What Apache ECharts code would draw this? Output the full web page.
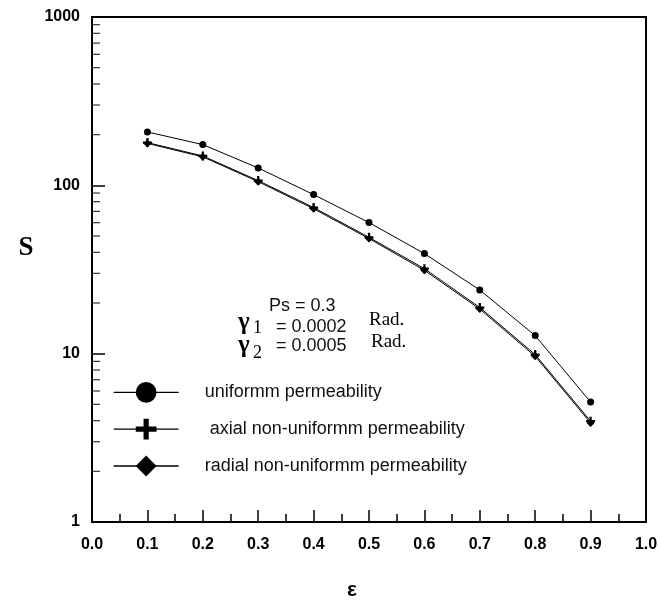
<!DOCTYPE html>
<html>
<head>
<meta charset="utf-8">
<script src="https://cdn.jsdelivr.net/npm/echarts@6/dist/echarts.min.js"></script>
<style>
html,body{margin:0;padding:0;background:#fff;}
#chart{width:658px;height:603px;}
</style>
</head>
<body>
<div id="chart"></div>
<script>
// ---- data ----
const epsilon = [0.1, 0.2, 0.3, 0.4, 0.5, 0.6, 0.7, 0.8, 0.9];
const uniformS = [207.5, 174.6, 126.8, 88.1, 60.1, 39.3, 23.9, 12.8, 5.16];
const axialS = [179.5, 149.4, 106.7, 73.8, 49.1, 32.0, 18.8, 9.87, 3.97];
const radialS = [177.5, 147.6, 105.2, 72.6, 48.3, 31.3, 18.4, 9.65, 3.88];
const seriesNames = ['uniformm permeability', ' axial non-uniformm permeability', 'radial non-uniformm permeability'];
const yMinorTicks = [2, 3, 4, 5, 6, 7, 8, 9, 20, 30, 40, 50, 60, 70, 80, 90, 200, 300, 400, 500, 600, 700, 800, 900];
const xTickLabels = ['0.0', '0.1', '0.2', '0.3', '0.4', '0.5', '0.6', '0.7', '0.8', '0.9', '1.0'];
const yTickLabels = { 1: '1', 10: '10', 100: '100', 1000: '1000' };

const SANS = 'Liberation Sans, Arial, sans-serif';
const SERIF = 'Liberation Serif, Times New Roman, serif';
const PLUS = 'path://M3,0 H5 V3 H8 V5 H5 V8 H3 V5 H0 V3 H3 Z';

const toPairs = (ys) => epsilon.map((x, i) => [x, ys[i]]);

const chart = echarts.init(document.getElementById('chart'), null, { renderer: 'canvas' });

const lineSeries = (name, ys, symbol, size) => ({
  name: name,
  type: 'line',
  data: toPairs(ys),
  symbol: symbol,
  symbolSize: size,
  showSymbol: true,
  clip: false,
  lineStyle: { color: '#000', width: 1 },
  itemStyle: { color: '#000' },
  emphasis: { disabled: true },
  animation: false,
  z: 3
});

const option = {
  animation: false,
  backgroundColor: '#fff',
  grid: {
    left: 92, right: 12, top: 17, bottom: 81,
    show: true, borderColor: '#000', borderWidth: 2,
    containLabel: false, outerBoundsMode: 'none'
  },
  legend: {
    orient: 'vertical',
    left: 113, top: 382, padding: 0,
    itemWidth: 65, itemHeight: 26, itemGap: 16,
    data: seriesNames,
    selectedMode: false,
    lineStyle: { width: 1.3 },
    textStyle: { fontFamily: SANS, fontSize: 18, color: '#111', padding: [0, 0, 0, 21] }
  },
  xAxis: {
    type: 'value', min: 0, max: 1, interval: 0.1,
    axisLine: { show: true, onZero: false, lineStyle: { color: '#000', width: 2 } },
    axisTick: { show: true, inside: true, length: 12, lineStyle: { color: '#000', width: 1.5 } },
    minorTick: { show: true, splitNumber: 2, length: 8, lineStyle: { color: '#000', width: 1.5 } },
    splitLine: { show: false },
    axisLabel: {
      margin: 15, color: '#000', fontFamily: SANS, fontWeight: 'bold', fontSize: 16,
      formatter: (v) => xTickLabels[Math.round(v * 10)]
    }
  },
  yAxis: {
    type: 'log', logBase: 10, min: 1, max: 1000,
    axisLine: { show: true, onZero: false, lineStyle: { color: '#000', width: 2 } },
    axisTick: { show: true, inside: true, length: 13, lineStyle: { color: '#000', width: 1.5 } },
    splitLine: { show: false },
    axisLabel: {
      margin: 12, color: '#000', fontFamily: SANS, fontWeight: 'bold', fontSize: 16,
      formatter: (v) => yTickLabels[Math.round(v)] || String(Math.round(v))
    }
  },
  graphic: [
    { type: 'text', x: 26, y: 248, style: { text: 'S', font: 'bold 27px ' + SERIF, fill: '#000', align: 'center', verticalAlign: 'middle' } },
    { type: 'text', x: 352, y: 590, style: { text: 'ε', font: 'bold 21px ' + SANS, fill: '#000', align: 'center', verticalAlign: 'middle' } },
    { type: 'text', x: 269, y: 306, style: { text: 'Ps = 0.3', font: '18px ' + SANS, fill: '#111', align: 'left', verticalAlign: 'middle' } },
    { type: 'text', x: 238, y: 323, style: { text: 'γ', font: 'bold 25px ' + SERIF, fill: '#000', align: 'left', verticalAlign: 'middle' } },
    { type: 'text', x: 253, y: 328, style: { text: '1', font: '18px ' + SERIF, fill: '#000', align: 'left', verticalAlign: 'middle' } },
    { type: 'text', x: 276, y: 327, style: { text: '= 0.0002', font: '18px ' + SANS, fill: '#111', align: 'left', verticalAlign: 'middle' } },
    { type: 'text', x: 369, y: 320, style: { text: 'Rad.', font: '19px ' + SERIF, fill: '#000', align: 'left', verticalAlign: 'middle' } },
    { type: 'text', x: 238, y: 346, style: { text: 'γ', font: 'bold 25px ' + SERIF, fill: '#000', align: 'left', verticalAlign: 'middle' } },
    { type: 'text', x: 253, y: 353, style: { text: '2', font: '18px ' + SERIF, fill: '#000', align: 'left', verticalAlign: 'middle' } },
    { type: 'text', x: 276, y: 346.5, style: { text: '= 0.0005', font: '18px ' + SANS, fill: '#111', align: 'left', verticalAlign: 'middle' } },
    { type: 'text', x: 371, y: 342, style: { text: 'Rad.', font: '19px ' + SERIF, fill: '#000', align: 'left', verticalAlign: 'middle' } }
  ],
  series: [
    lineSeries(seriesNames[0], uniformS, 'circle', 7),
    lineSeries(seriesNames[1], axialS, PLUS, 9),
    lineSeries(seriesNames[2], radialS, 'diamond', 8),
    {
      name: 'yMinor',
      type: 'scatter',
      data: yMinorTicks.map((v) => [0, v]),
      symbol: 'rect',
      symbolSize: [8, 1.2],
      symbolOffset: [4, 0],
      itemStyle: { color: '#000' },
      silent: true,
      clip: false,
      animation: false,
      z: 1
    }
  ]
};
chart.setOption(option);
</script>
</body>
</html>
